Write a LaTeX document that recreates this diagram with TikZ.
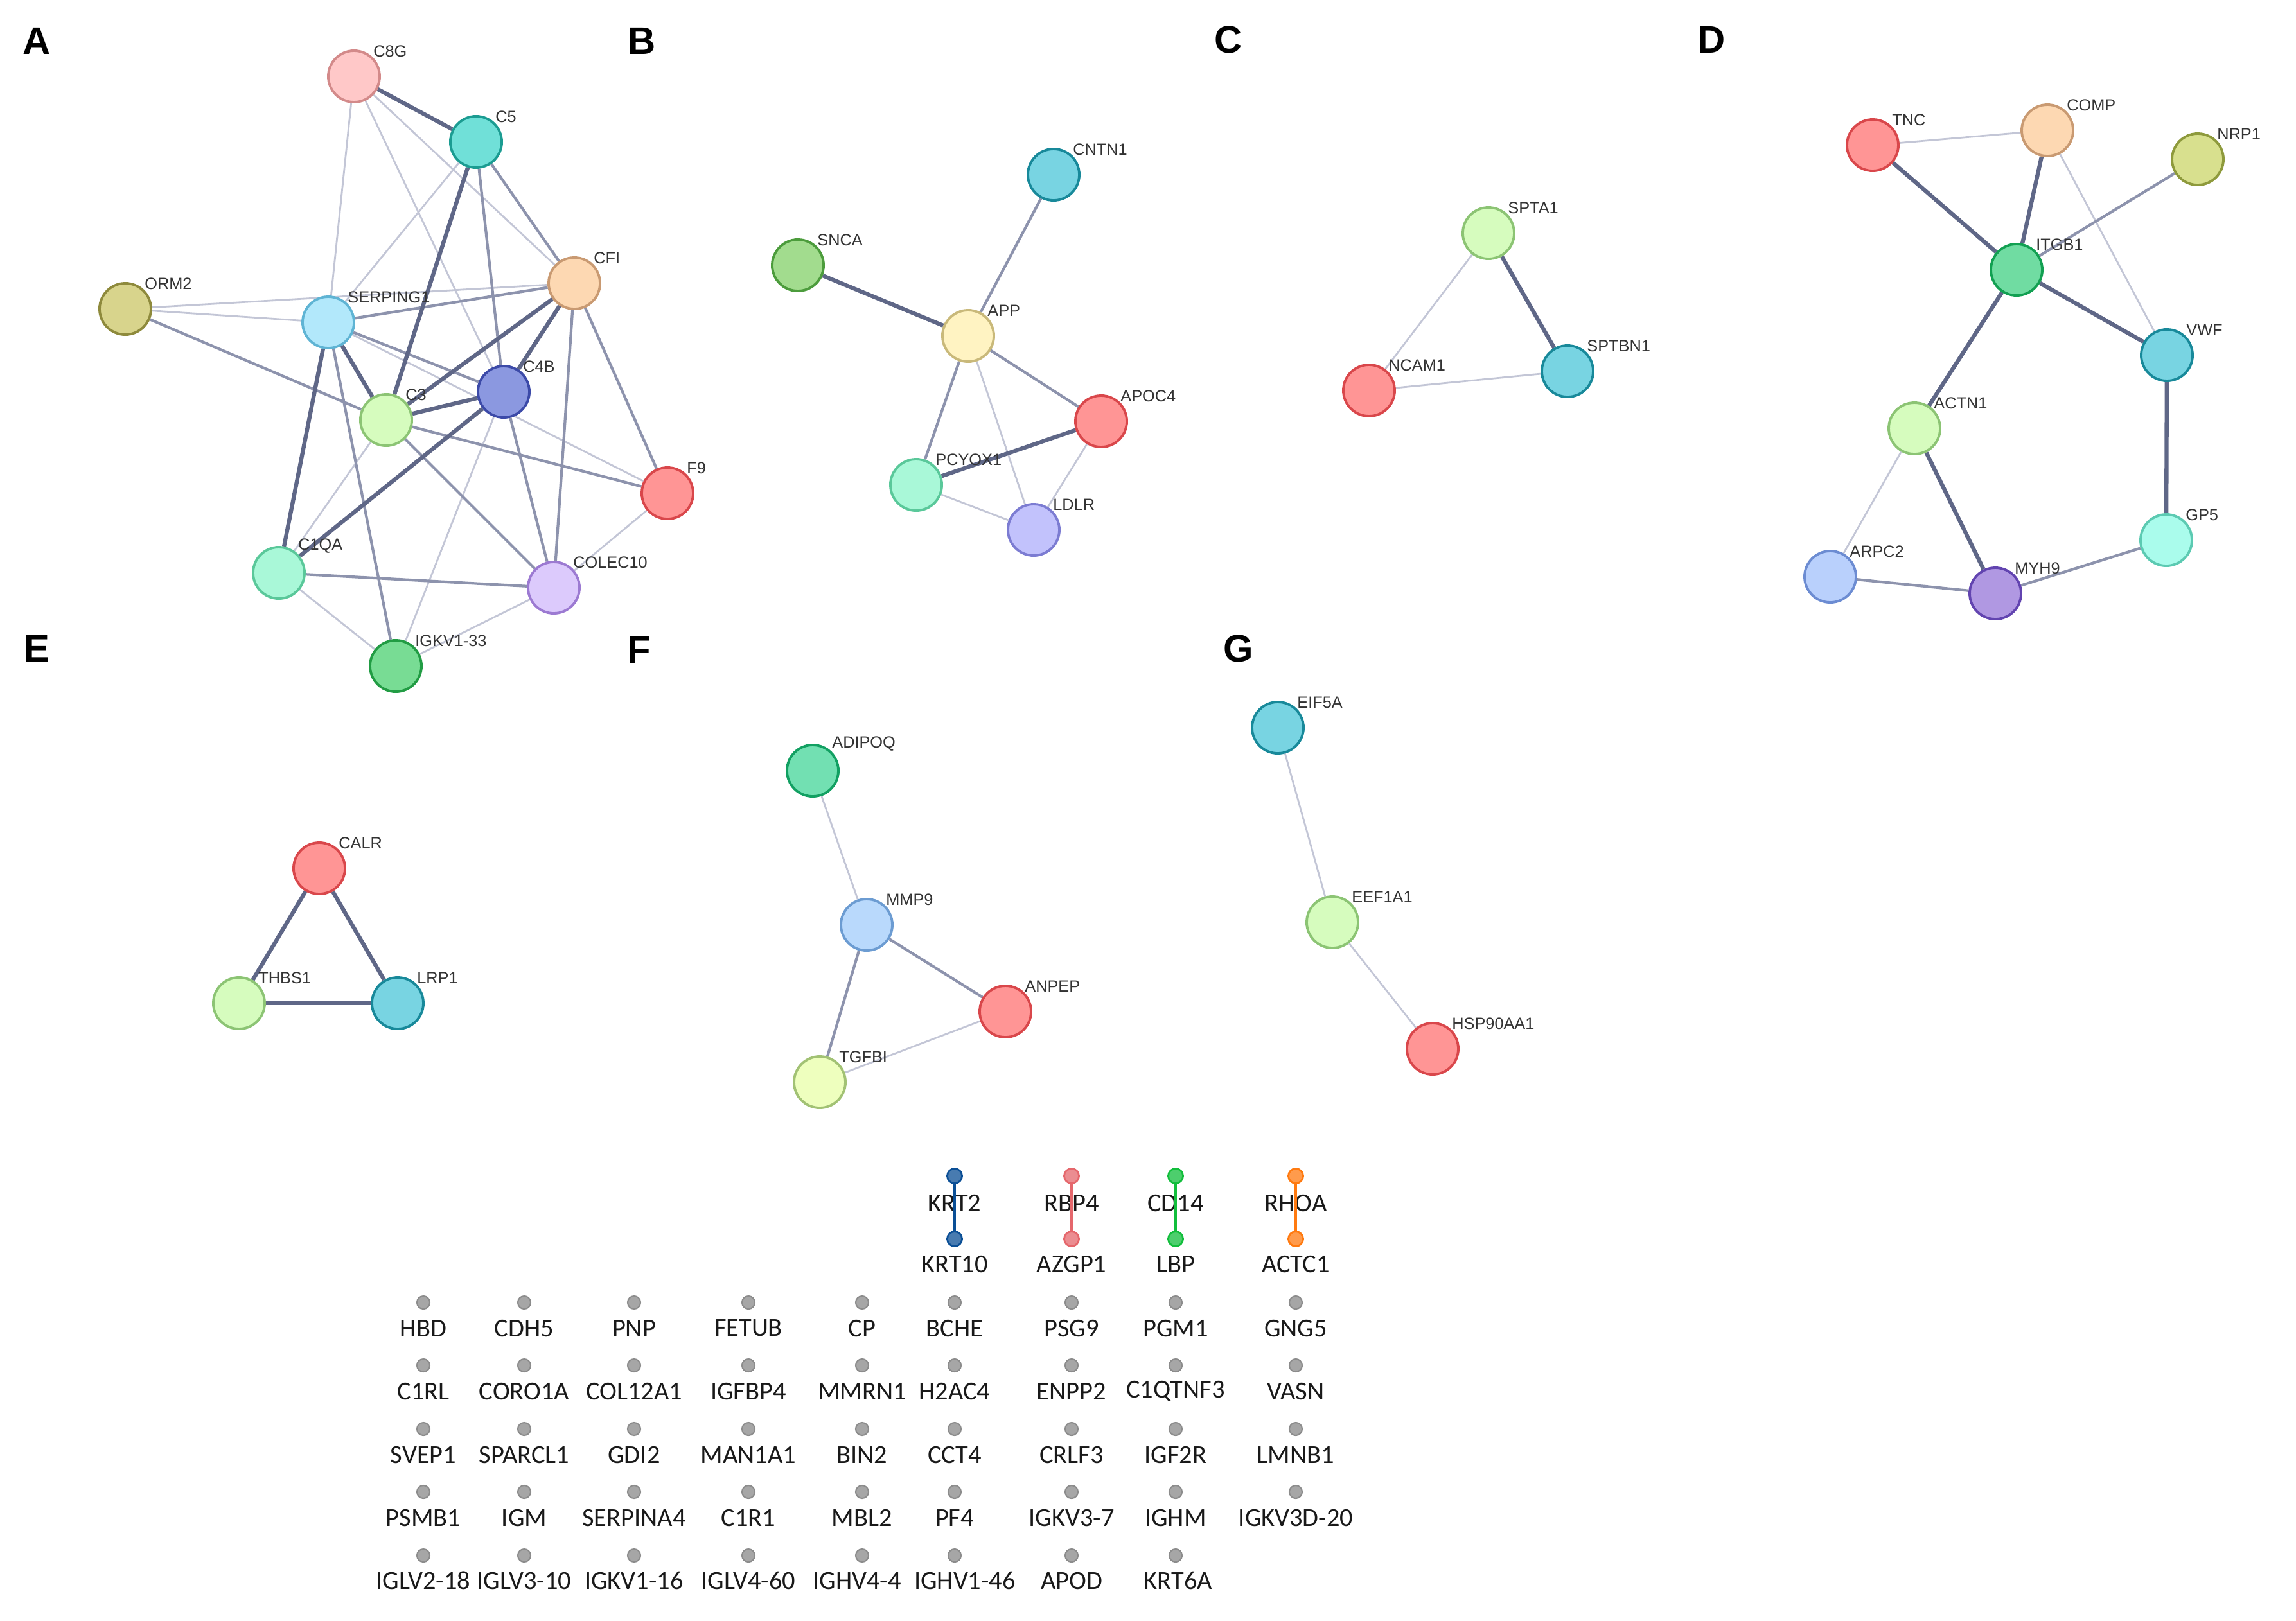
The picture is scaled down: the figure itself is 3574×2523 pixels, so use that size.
\documentclass[tikz,border=0pt]{standalone}
\usepackage{fontspec}
\setmainfont{Liberation Sans}
\newfontfamily\gridfont{Carlito}
\usetikzlibrary{backgrounds}

% node colours (fill / rim)
\definecolor{pinkF}{HTML}{FFC8C8}\definecolor{pinkD}{HTML}{D38A8A}
\definecolor{tealF}{HTML}{70E0D8}\definecolor{tealD}{HTML}{1B9C92}
\definecolor{oliveF}{HTML}{D8D48C}\definecolor{oliveD}{HTML}{8E8A3C}
\definecolor{skyF}{HTML}{B2E8FB}\definecolor{skyD}{HTML}{5FB4D4}
\definecolor{peachF}{HTML}{FDD8B2}\definecolor{peachD}{HTML}{C99A72}
\definecolor{periF}{HTML}{8B98E0}\definecolor{periD}{HTML}{3C4AA8}
\definecolor{lgreenF}{HTML}{D6FCBE}\definecolor{lgreenD}{HTML}{8CC474}
\definecolor{salmonF}{HTML}{FF9595}\definecolor{salmonD}{HTML}{D9474B}
\definecolor{mintF}{HTML}{A9F8D8}\definecolor{mintD}{HTML}{5AC89A}
\definecolor{lavF}{HTML}{DCCAFC}\definecolor{lavD}{HTML}{9C7AD2}
\definecolor{greenF}{HTML}{78DC94}\definecolor{greenD}{HTML}{229C44}
\definecolor{cyanF}{HTML}{78D4E2}\definecolor{cyanD}{HTML}{18899A}
\definecolor{sncaF}{HTML}{A2DC8E}\definecolor{sncaD}{HTML}{4C9C3C}
\definecolor{appF}{HTML}{FFF3C2}\definecolor{appD}{HTML}{C9B97A}
\definecolor{ldlrF}{HTML}{C2C2FC}\definecolor{ldlrD}{HTML}{7C7CD2}
\definecolor{nrpF}{HTML}{D8E08E}\definecolor{nrpD}{HTML}{8E9A3C}
\definecolor{itgF}{HTML}{70DCA2}\definecolor{itgD}{HTML}{12A052}
\definecolor{gpF}{HTML}{AAFCEC}\definecolor{gpD}{HTML}{5CCAB2}
\definecolor{arpF}{HTML}{B9D0FC}\definecolor{arpD}{HTML}{6C8CD2}
\definecolor{myhF}{HTML}{B098E2}\definecolor{myhD}{HTML}{6244B0}
\definecolor{adiF}{HTML}{72E0B2}\definecolor{adiD}{HTML}{12A062}
\definecolor{mmpF}{HTML}{B9D9FC}\definecolor{mmpD}{HTML}{6C9CD2}
\definecolor{tgfF}{HTML}{EEFFBE}\definecolor{tgfD}{HTML}{A2C274}
% links and text
\definecolor{linkstrong}{HTML}{5F6787}
\definecolor{linkmid}{HTML}{8D93AD}
\definecolor{linkweak}{HTML}{C3C6D6}
\definecolor{labelgray}{HTML}{333333}
\definecolor{krtblue}{HTML}{0B4F96}
\definecolor{rbpred}{HTML}{E5676C}
\definecolor{cdgreen}{HTML}{12BE3C}
\definecolor{rhoorange}{HTML}{FF7A10}

\begin{document}
\begin{tikzpicture}[x=0.01cm, y=-0.01cm,
    gene/.style={circle, minimum size=0.8cm, inner sep=0, line width=1.1pt, label distance=0.15cm},
    glabel/.style={inner sep=0, text=labelgray, font=\fontsize{7.2}{8}\selectfont},
    panel/.style={font=\bfseries\fontsize{17}{18}\selectfont},
    stronglink/.style={linkstrong, line width=1.8pt},
    midlink/.style={linkmid, line width=1.2pt},
    weaklink/.style={linkweak, line width=0.8pt},
    greydot/.style={circle, minimum size=0.2cm, inner sep=0, fill=black!35, draw=black!45, line width=0.6pt},
    pairdot/.style={circle, minimum size=0.23cm, inner sep=0, line width=0.8pt},
    gridtxt/.style={inner sep=0, text=black!90, font=\gridfont\fontsize{11.5}{13}\selectfont}]

  \useasboundingbox (0,0) rectangle (3574,2523);

  % panel letters
  \node[panel] (la) at (57,64) {A};
  \node[panel] (lb) at (999,64) {B};
  \node[panel] (lc) at (1912,62) {C};
  \node[panel] (ld) at (2664,62) {D};
  \node[panel] (le) at (57,1010) {E};
  \node[panel] (lf) at (995,1012) {F};
  \node[panel] (lg) at (1928,1010) {G};

  % A: complement network
  \node[gene, fill=pinkF, draw=pinkD, label={[glabel]above right:C8G}] (c8g) at (551,119) {};
  \node[gene, fill=tealF, draw=tealD, label={[glabel]above right:C5}] (c5) at (741,221) {};
  \node[gene, fill=oliveF, draw=oliveD, label={[glabel]above right:ORM2}] (orm2) at (195,481) {};
  \node[gene, fill=skyF, draw=skyD, label={[glabel]above right:SERPING1}] (serping1) at (511,502) {};
  \node[gene, fill=peachF, draw=peachD, label={[glabel]above right:CFI}] (cfi) at (894,441) {};
  \node[gene, fill=periF, draw=periD, label={[glabel]above right:C4B}] (c4b) at (784,610) {};
  \node[gene, fill=lgreenF, draw=lgreenD, label={[glabel]above right:C3}] (c3) at (601,654) {};
  \node[gene, fill=salmonF, draw=salmonD, label={[glabel]above right:F9}] (f9) at (1039,768) {};
  \node[gene, fill=mintF, draw=mintD, label={[glabel]above right:C1QA}] (c1qa) at (434,892) {};
  \node[gene, fill=lavF, draw=lavD, label={[glabel]above right:COLEC10}] (colec10) at (862,915) {};
  \node[gene, fill=greenF, draw=greenD, label={[glabel]above right:IGKV1-33}] (igkv) at (616,1037) {};

  % B
  \node[gene, fill=cyanF, draw=cyanD, label={[glabel]above right:CNTN1}] (cntn1) at (1640,272) {};
  \node[gene, fill=sncaF, draw=sncaD, label={[glabel]above right:SNCA}] (snca) at (1242,413) {};
  \node[gene, fill=appF, draw=appD, label={[glabel]above right:APP}] (app) at (1507,523) {};
  \node[gene, fill=salmonF, draw=salmonD, label={[glabel]above right:APOC4}] (apoc4) at (1714,656) {};
  \node[gene, fill=mintF, draw=mintD, label={[glabel]above right:PCYOX1}] (pcyox1) at (1426,755) {};
  \node[gene, fill=ldlrF, draw=ldlrD, label={[glabel]above right:LDLR}] (ldlr) at (1609,825) {};

  % C
  \node[gene, fill=lgreenF, draw=lgreenD, label={[glabel]above right:SPTA1}] (spta1) at (2317,363) {};
  \node[gene, fill=salmonF, draw=salmonD, label={[glabel]above right:NCAM1}] (ncam1) at (2131,608) {};
  \node[gene, fill=cyanF, draw=cyanD, label={[glabel]above right:SPTBN1}] (sptbn1) at (2440,578) {};

  % D
  \node[gene, fill=salmonF, draw=salmonD, label={[glabel]above right:TNC}] (tnc) at (2915,226) {};
  \node[gene, fill=peachF, draw=peachD, label={[glabel]above right:COMP}] (comp) at (3187,203) {};
  \node[gene, fill=nrpF, draw=nrpD, label={[glabel]above right:NRP1}] (nrp1) at (3421,248) {};
  \node[gene, fill=itgF, draw=itgD, label={[glabel]above right:ITGB1}] (itgb1) at (3139,420) {};
  \node[gene, fill=cyanF, draw=cyanD, label={[glabel]above right:VWF}] (vwf) at (3373,553) {};
  \node[gene, fill=lgreenF, draw=lgreenD, label={[glabel]above right:ACTN1}] (actn1) at (2980,667) {};
  \node[gene, fill=gpF, draw=gpD, label={[glabel]above right:GP5}] (gp5) at (3372,841) {};
  \node[gene, fill=arpF, draw=arpD, label={[glabel]above right:ARPC2}] (arpc2) at (2849,898) {};
  \node[gene, fill=myhF, draw=myhD, label={[glabel]above right:MYH9}] (myh9) at (3106,924) {};

  % E
  \node[gene, fill=salmonF, draw=salmonD, label={[glabel]above right:CALR}] (calr) at (497,1352) {};
  \node[gene, fill=lgreenF, draw=lgreenD, label={[glabel]above right:THBS1}] (thbs1) at (372,1562) {};
  \node[gene, fill=cyanF, draw=cyanD, label={[glabel]above right:LRP1}] (lrp1) at (619,1562) {};

  % F
  \node[gene, fill=adiF, draw=adiD, label={[glabel]above right:ADIPOQ}] (adipoq) at (1265,1200) {};
  \node[gene, fill=mmpF, draw=mmpD, label={[glabel]above right:MMP9}] (mmp9) at (1349,1440) {};
  \node[gene, fill=salmonF, draw=salmonD, label={[glabel]above right:ANPEP}] (anpep) at (1565,1575) {};
  \node[gene, fill=tgfF, draw=tgfD, label={[glabel]above right:TGFBI}] (tgfbi) at (1276,1685) {};

  % G
  \node[gene, fill=cyanF, draw=cyanD, label={[glabel]above right:EIF5A}] (eif5a) at (1989,1133) {};
  \node[gene, fill=lgreenF, draw=lgreenD, label={[glabel]above right:EEF1A1}] (eef1a1) at (2074,1436) {};
  \node[gene, fill=salmonF, draw=salmonD, label={[glabel]above right:HSP90AA1}] (hsp90) at (2230,1633) {};

  % links go under the nodes
  \begin{scope}[on background layer]
    % A
    \draw[weaklink] (c8g) -- (serping1);
    \draw[weaklink] (c8g) -- (cfi);
    \draw[weaklink] (c8g) -- (c4b);
    \draw[weaklink] (c5) -- (serping1);
    \draw[weaklink] (orm2) -- (serping1);
    \draw[weaklink] (orm2) -- (cfi);
    \draw[weaklink] (serping1) -- (f9);
    \draw[weaklink] (c3) -- (c1qa);
    \draw[weaklink] (c4b) -- (igkv);
    \draw[weaklink] (c1qa) -- (igkv);
    \draw[weaklink] (colec10) -- (igkv);
    \draw[weaklink] (f9) -- (colec10);
    \draw[midlink] (c5) -- (c4b);
    \draw[midlink] (c5) -- (cfi);
    \draw[midlink] (orm2) -- (c3);
    \draw[midlink] (serping1) -- (cfi);
    \draw[midlink] (serping1) -- (c4b);
    \draw[midlink] (serping1) -- (igkv);
    \draw[midlink] (c3) -- (f9);
    \draw[midlink] (c3) -- (colec10);
    \draw[midlink] (c4b) -- (colec10);
    \draw[midlink] (cfi) -- (colec10);
    \draw[midlink] (cfi) -- (f9);
    \draw[midlink] (c1qa) -- (colec10);
    \draw[stronglink] (c8g) -- (c5);
    \draw[stronglink] (c5) -- (c3);
    \draw[stronglink] (serping1) -- (c3);
    \draw[stronglink] (serping1) -- (c1qa);
    \draw[stronglink] (c3) -- (cfi);
    \draw[stronglink] (c3) -- (c4b);
    \draw[stronglink] (c4b) -- (c1qa);
    \draw[stronglink] (c4b) -- (cfi);
    % B
    \draw[stronglink] (snca) -- (app);
    \draw[midlink] (cntn1) -- (app);
    \draw[midlink] (app) -- (apoc4);
    \draw[midlink] (app) -- (pcyox1);
    \draw[weaklink] (app) -- (ldlr);
    \draw[stronglink] (apoc4) -- (pcyox1);
    \draw[weaklink] (apoc4) -- (ldlr);
    \draw[weaklink] (pcyox1) -- (ldlr);
    % C
    \draw[stronglink] (spta1) -- (sptbn1);
    \draw[weaklink] (spta1) -- (ncam1);
    \draw[weaklink] (ncam1) -- (sptbn1);
    % D
    \draw[weaklink] (tnc) -- (comp);
    \draw[stronglink] (tnc) -- (itgb1);
    \draw[stronglink] (comp) -- (itgb1);
    \draw[weaklink] (comp) -- (vwf);
    \draw[midlink] (nrp1) -- (itgb1);
    \draw[stronglink] (itgb1) -- (vwf);
    \draw[stronglink] (itgb1) -- (actn1);
    \draw[stronglink] (vwf) -- (gp5);
    \draw[weaklink] (actn1) -- (arpc2);
    \draw[stronglink] (actn1) -- (myh9);
    \draw[midlink] (arpc2) -- (myh9);
    \draw[midlink] (myh9) -- (gp5);
    % E
    \draw[stronglink] (calr) -- (thbs1);
    \draw[stronglink] (calr) -- (lrp1);
    \draw[stronglink] (thbs1) -- (lrp1);
    % F
    \draw[weaklink] (adipoq) -- (mmp9);
    \draw[midlink] (mmp9) -- (anpep);
    \draw[midlink] (mmp9) -- (tgfbi);
    \draw[weaklink] (anpep) -- (tgfbi);
    % G
    \draw[weaklink] (eif5a) -- (eef1a1);
    \draw[weaklink] (eef1a1) -- (hsp90);
  \end{scope}

  % pairs without a network
  \foreach \x/\na/\nb/\col [count=\i] in {1486/KRT2/KRT10/krtblue, 1668/RBP4/AZGP1/rbpred,
      1830/CD14/LBP/cdgreen, 2017/RHOA/ACTC1/rhoorange}{
    \node[gridtxt] (p\i-ta) at (\x,1873) {\na};
    \node[gridtxt] (p\i-tb) at (\x,1968) {\nb};
    \coordinate (p\i-top) at (\x,1831);
    \coordinate (p\i-bot) at (\x,1929);
    \draw[\col, line width=1.2pt] (p\i-top) -- (p\i-bot);
    \node[pairdot, fill=\col!75, draw=\col] (p\i-a) at (p\i-top) {};
    \node[pairdot, fill=\col!75, draw=\col] (p\i-b) at (p\i-bot) {};
  }

  % single proteins
  \foreach \x/\t [count=\i] in {659/HBD, 816/CDH5, 987/PNP, 1165/FETUB, 1342/CP, 1486/BCHE, 1668/PSG9, 1830/PGM1, 2017/GNG5}{
    \node[greydot] (ra\i) at (\x,2028) {};
    \node[gridtxt] (ra\i-t) at (\x,2068) {\t};
  }
  \foreach \x/\t [count=\i] in {659/C1RL, 816/CORO1A, 987/COL12A1, 1165/IGFBP4, 1342/MMRN1, 1486/H2AC4, 1668/ENPP2, 1830/C1QTNF3, 2017/VASN}{
    \node[greydot] (rb\i) at (\x,2126) {};
    \node[gridtxt] (rb\i-t) at (\x,2166) {\t};
  }
  \foreach \x/\t [count=\i] in {659/SVEP1, 816/SPARCL1, 987/GDI2, 1165/MAN1A1, 1342/BIN2, 1486/CCT4, 1668/CRLF3, 1830/IGF2R, 2017/LMNB1}{
    \node[greydot] (rc\i) at (\x,2225) {};
    \node[gridtxt] (rc\i-t) at (\x,2265) {\t};
  }
  \foreach \x/\t [count=\i] in {659/PSMB1, 816/IGM, 987/SERPINA4, 1165/C1R1, 1342/MBL2, 1486/PF4, 1668/IGKV3-7, 1830/IGHM, 2017/IGKV3D-20}{
    \node[greydot] (rd\i) at (\x,2323) {};
    \node[gridtxt] (rd\i-t) at (\x,2363) {\t};
  }
  \foreach \x/\lx/\t [count=\i] in {659/659/IGLV2-18, 816/816/IGLV3-10, 987/987/IGKV1-16, 1165/1165/IGLV4-60,
      1342/1334/IGHV4-4, 1486/1502/IGHV1-46, 1668/1668/APOD, 1830/1834/KRT6A}{
    \node[greydot] (re\i) at (\x,2422) {};
    \node[gridtxt] (re\i-t) at (\lx,2461) {\t};
  }
\end{tikzpicture}
\end{document}
